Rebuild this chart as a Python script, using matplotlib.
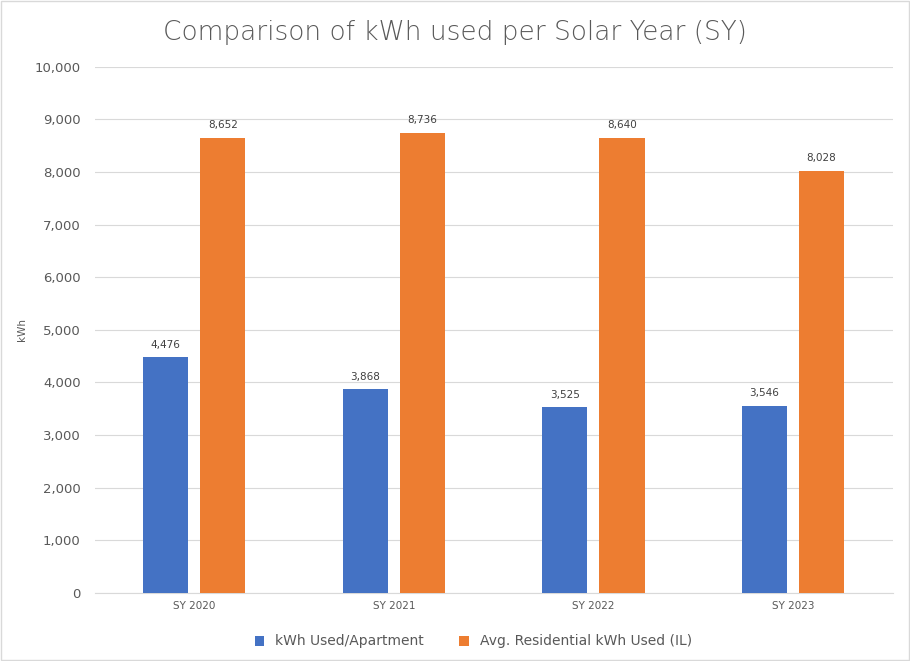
import matplotlib.pyplot as plt
import numpy as np

years = ['SY 2020', 'SY 2021', 'SY 2022', 'SY 2023']
apartment = [4476, 3868, 3525, 3546]
residential = [8652, 8736, 8640, 8028]

fig = plt.figure(figsize=(9.1, 6.61), dpi=100)
ax = fig.add_axes([0.104, 0.103, 0.877, 0.796])

x = np.arange(len(years))
w = 0.226
b1 = ax.bar(x - 0.143, apartment, w, color='#4472C4', label='kWh Used/Apartment', zorder=3)
b2 = ax.bar(x + 0.143, residential, w, color='#ED7D31', label='Avg. Residential kWh Used (IL)', zorder=3)
for bars in (b1, b2):
    for r in bars:
        ax.text(r.get_x() + r.get_width() / 2, r.get_height() + 150, f'{int(r.get_height()):,}',
                ha='center', va='bottom', fontsize=7.5, color='#404040')

ax.set_xlim(-0.5, 3.5)
ax.set_ylim(0, 10000)
ax.set_yticks(range(0, 10001, 1000))
ax.set_yticklabels([f'{v:,}' for v in range(0, 10001, 1000)])
ax.set_xticks(x)
ax.set_xticklabels(years)
ax.tick_params(axis='x', labelsize=7.5, colors='#595959', length=0, pad=6)
ax.tick_params(axis='y', labelsize=9.5, colors='#595959', length=0, pad=10)
ax.grid(axis='y', color='#D9D9D9', linewidth=0.8, zorder=0)
for s in ['top', 'right', 'left']:
    ax.spines[s].set_visible(False)
ax.spines['bottom'].set_color('#D9D9D9')
ax.set_ylabel('kWh', fontsize=7.5, color='#595959')
ax.yaxis.set_label_coords(-0.085, 0.5)

fig.suptitle('Comparison of kWh used per Solar Year (SY)', fontsize=19, color='#595959',
             fontweight='light', y=0.97)
fig.legend(loc='lower center', bbox_to_anchor=(0.52, 0.0), ncol=2, frameon=False,
           fontsize=10, labelcolor='#595959', handlelength=0.7, handleheight=0.7, columnspacing=2.5)
fig.patches.append(plt.Rectangle((0.001, 0.001), 0.998, 0.998, transform=fig.transFigure,
                                 fill=False, edgecolor='#D9D9D9', linewidth=1))
fig.savefig('out.png', dpi=100)
